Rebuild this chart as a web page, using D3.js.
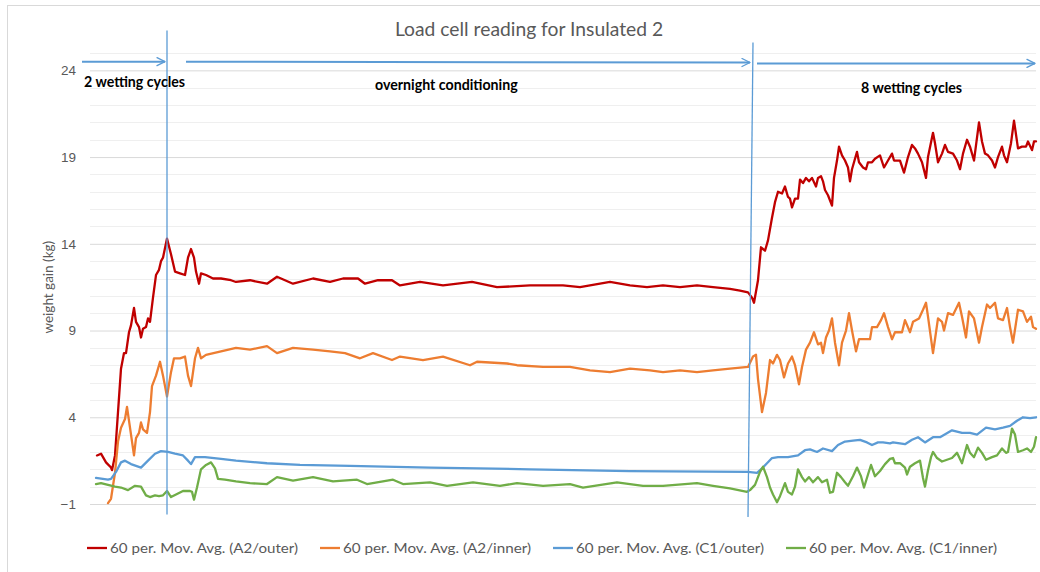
<!DOCTYPE html>
<html>
<head>
<meta charset="utf-8">
<script src="https://cdn.jsdelivr.net/npm/d3@7"></script>
<style>
  html, body { margin: 0; padding: 0; background: #ffffff; }
  svg { display: block; font-family: Lato, "Open Sans", "Liberation Sans", sans-serif; }
</style>
</head>
<body>
<svg id="chart" width="1040" height="572"></svg>
<script>
// ---------------- data ----------------
const chartTitle = "Load cell reading for Insulated 2";
const yAxisTitle = "weight gain (kg)";
const yTicks = [-1, 4, 9, 14, 19, 24];
const yMinorTicks = d3.range(-1, 26, 1);
const seriesNames = [
  "60 per. Mov. Avg. (A2/outer)",
  "60 per. Mov. Avg. (A2/inner)",
  "60 per. Mov. Avg. (C1/outer)",
  "60 per. Mov. Avg. (C1/inner)"
];
const seriesColors = ["#c00000", "#ed7d31", "#5b9bd5", "#70ad47"];

// [time step, weight gain kg]
const a2Outer = [[1,1.8],[5,1.9],[10,1.4],[15,1.1],[16,0.95],[19,1.8],[22,4.3],[25,6.8],[28,7.7],[30,7.7],[33,8.9],[35,9.3],[38,10.3],[40,9.5],[43,9.2],[45,8.6],[47,9.1],[50,9.2],[52,9.7],[54,9.5],[57,10.9],[60,12.2],[63,12.5],[65,13.0],[67,13.2],[71,14.3],[75,13.4],[79,12.4],[84,12.3],[89,12.2],[92,13.2],[95,13.7],[98,13.2],[100,12.4],[103,11.7],[105,12.3],[110,12.2],[117,12.0],[125,12.0],[135,11.9],[140,11.8],[154,11.9],[171,11.7],[181,12.1],[197,11.7],[217,12.0],[234,11.8],[247,12.0],[262,12.0],[269,11.7],[282,11.9],[296,11.9],[304,11.6],[324,11.8],[347,11.6],[376,11.8],[401,11.5],[434,11.6],[467,11.6],[484,11.5],[514,11.8],[534,11.6],[551,11.5],[567,11.6],[584,11.5],[601,11.6],[617,11.5],[634,11.4],[644,11.3],[652,11.2],[656,10.9],[658,10.6],[662,11.9],[665,13.8],[669,13.6],[672,14.2],[676,15.5],[679,16.4],[682,17.0],[686,16.9],[689,17.3],[692,16.7],[694,16.6],[696,16.1],[699,16.6],[702,16.6],[704,17.7],[707,17.5],[710,17.8],[713,17.6],[716,17.8],[720,17.3],[722,17.8],[725,17.9],[727,17.6],[729,17.1],[732,16.8],[736,16.2],[738,17.8],[741,18.8],[743,19.6],[746,19.1],[749,18.8],[752,18.4],[754,17.6],[756,18.3],[758,18.7],[761,19.3],[763,18.7],[767,18.4],[770,18.3],[772,18.7],[776,18.7],[779,18.9],[784,19.1],[788,18.4],[792,18.8],[796,19.2],[798,18.8],[804,18.8],[808,18.1],[812,19.0],[816,19.7],[819,19.5],[822,19.2],[826,18.7],[830,17.8],[832,19.0],[837,20.4],[839,19.8],[842,18.7],[846,19.2],[849,19.7],[852,19.3],[857,19.2],[861,18.8],[864,18.3],[867,19.2],[871,20.0],[874,19.6],[878,18.8],[883,21.0],[886,19.9],[889,19.2],[892,19.1],[896,18.8],[899,18.4],[902,19.0],[906,19.6],[908,19.1],[911,18.7],[915,19.8],[918,21.1],[922,19.5],[926,19.6],[930,19.6],[932,19.9],[936,19.4],[938,19.9],[940,19.9]];

const a2Inner = [[12,-0.95],[15,-0.7],[19,0.8],[22,2.6],[25,3.4],[29,3.9],[31,4.6],[34,3.4],[38,1.8],[40,2.8],[43,3.1],[45,3.7],[47,3.3],[51,3.1],[54,4.3],[56,5.8],[60,6.4],[64,7.2],[67,6.4],[71,5.2],[75,6.6],[78,7.4],[84,7.4],[89,7.5],[92,6.4],[95,5.8],[99,7.4],[102,8.0],[105,7.4],[110,7.6],[125,7.8],[140,8.0],[154,7.9],[171,8.1],[181,7.7],[197,8.0],[217,7.9],[234,7.8],[249,7.7],[264,7.4],[277,7.7],[296,7.3],[304,7.5],[327,7.3],[347,7.5],[374,7.0],[381,7.2],[411,7.1],[421,7.0],[447,6.9],[474,6.9],[494,6.7],[514,6.6],[534,6.8],[554,6.7],[567,6.6],[584,6.7],[601,6.6],[617,6.7],[634,6.8],[652,6.9],[657,7.5],[660,7.6],[662,6.2],[666,4.3],[670,5.4],[674,7.3],[677,7.1],[681,7.6],[684,7.3],[688,6.3],[692,7.1],[696,7.5],[699,7.0],[703,5.9],[706,6.9],[710,7.9],[714,8.3],[718,8.9],[722,8.2],[725,8.3],[727,7.7],[730,8.6],[733,9.0],[736,9.7],[739,8.3],[743,7.0],[746,8.3],[750,9.0],[753,10.0],[756,9.0],[760,7.8],[763,8.5],[770,8.5],[774,8.5],[776,9.2],[781,9.2],[785,9.6],[788,10.0],[792,9.2],[796,8.5],[799,8.9],[806,8.9],[809,9.6],[814,8.9],[817,9.5],[823,9.7],[827,10.2],[830,10.6],[832,9.8],[837,7.7],[839,8.5],[842,9.7],[846,9.5],[848,9.0],[852,10.0],[857,9.9],[863,10.6],[866,9.8],[870,8.6],[873,10.1],[878,9.7],[883,8.3],[886,9.2],[891,10.5],[894,10.3],[899,10.6],[902,9.7],[907,9.6],[911,10.3],[914,9.2],[917,8.3],[922,10.2],[927,10.1],[931,9.5],[935,9.8],[937,9.2],[940,9.1]];

const c1Outer = [[0,0.5],[12,0.4],[15,0.45],[20,0.85],[25,1.4],[29,1.5],[35,1.3],[45,1.1],[52,1.5],[59,1.9],[65,2.05],[72,2.0],[79,1.9],[87,1.8],[92,1.5],[95,1.3],[99,1.7],[109,1.7],[125,1.6],[140,1.5],[171,1.35],[204,1.25],[254,1.2],[334,1.1],[434,1.0],[534,0.9],[652,0.85],[661,0.8],[666,1.05],[671,1.35],[676,1.65],[682,1.7],[692,1.7],[702,1.8],[709,2.1],[714,2.15],[721,2.0],[727,2.2],[736,2.05],[742,2.4],[749,2.6],[757,2.65],[764,2.7],[771,2.55],[776,2.4],[782,2.55],[787,2.55],[794,2.5],[797,2.55],[809,2.45],[816,2.7],[822,2.85],[829,2.55],[837,2.85],[844,2.85],[856,3.25],[866,3.1],[874,3.1],[881,3.0],[890,3.4],[899,3.3],[907,3.4],[914,3.5],[921,3.8],[927,4.0],[934,3.95],[940,4.0]];

const c1Inner = [[0,0.15],[5,0.2],[12,0.1],[19,0.0],[25,-0.05],[32,-0.2],[39,0.05],[45,0.0],[50,-0.5],[54,-0.6],[59,-0.5],[63,-0.55],[67,-0.5],[71,-0.25],[75,-0.6],[80,-0.45],[87,-0.25],[94,-0.25],[96,-0.3],[98,-0.75],[101,-0.05],[105,1.0],[110,1.25],[115,1.4],[119,1.05],[122,0.45],[129,0.4],[140,0.3],[154,0.2],[171,0.15],[181,0.55],[197,0.35],[217,0.55],[237,0.3],[247,0.35],[261,0.4],[271,0.15],[297,0.4],[307,0.15],[334,0.25],[351,0.05],[377,0.25],[404,0.05],[421,0.2],[447,0.05],[474,0.15],[487,-0.05],[521,0.25],[547,0.05],[567,0.05],[601,0.2],[617,0.05],[634,-0.1],[651,-0.3],[654,-0.2],[659,0.1],[664,0.85],[667,1.15],[671,0.55],[674,-0.05],[677,-0.45],[681,-0.9],[684,-0.55],[689,0.2],[692,-0.3],[696,-0.45],[699,0.0],[702,1.0],[706,0.55],[709,0.3],[713,0.55],[717,0.25],[722,0.55],[726,0.25],[731,0.4],[734,-0.35],[737,-0.3],[741,0.8],[745,0.55],[749,0.25],[752,0.05],[757,0.6],[761,1.1],[765,0.6],[768,-0.05],[772,0.7],[775,1.25],[779,0.6],[784,0.9],[789,1.3],[794,1.6],[797,1.65],[799,1.35],[804,1.35],[809,1.1],[811,0.7],[814,1.15],[819,1.35],[824,1.5],[827,0.5],[829,0.0],[832,0.95],[835,1.7],[837,2.0],[841,1.65],[846,1.45],[851,1.55],[856,1.65],[861,1.95],[866,1.35],[871,2.4],[874,1.95],[878,1.7],[882,2.25],[886,1.95],[890,1.55],[896,1.7],[901,1.8],[906,2.2],[910,1.95],[912,2.0],[916,3.35],[919,3.0],[922,2.0],[927,2.1],[931,2.2],[935,2.0],[938,2.3],[940,2.85]];

// annotation phases (time step / kg units)
const phaseBoundaries = [ {t0: 71, v0: 26.3, t1: 71, v1: -1.6}, {t0: 657, v0: 25.6, t1: 652, v1: -1.75} ];
const phaseArrows = [ {t0: -14, t1: 69, v0: 24.5, v1: 24.5}, {t0: 90, t1: 654, v0: 24.5, v1: 24.45}, {t0: 661, t1: 939, v0: 24.4, v1: 24.4} ];
const phaseLabels = [ {text: "2 wetting cycles", t: -12, v: 23.05}, {text: "overnight conditioning", t: 279, v: 22.85}, {text: "8 wetting cycles", t: 765, v: 22.7} ];

// ---------------- drawing ----------------
const svg = d3.select("#chart");
const plot = {left: 90, right: 1036, top: 53, bottom: 504};

const x = d3.scaleLinear().domain([-6, 940]).range([plot.left, plot.right]);
const y = d3.scaleLinear().domain([-1, 25]).range([plot.bottom, plot.top]);

// outer chart border
svg.append("rect").attr("x", 7.5).attr("y", 5.5).attr("width", 1100).attr("height", 700)
  .attr("fill", "#fff").attr("stroke", "#d9d9d9").attr("stroke-width", 1);

// minor gridlines
svg.append("g").selectAll("line").data(yMinorTicks.filter(v => !yTicks.includes(v))).join("line")
  .attr("x1", plot.left).attr("x2", plot.right)
  .attr("y1", d => Math.round(y(d)) + 0.5).attr("y2", d => Math.round(y(d)) + 0.5)
  .attr("stroke", "#efefef").attr("stroke-width", 1);

// major gridlines via axis
const yAxis = d3.axisLeft(y).tickValues(yTicks).tickSize(-(plot.right - plot.left)).tickPadding(14).tickFormat(d3.format("d"));
const gy = svg.append("g").attr("transform", `translate(${plot.left},0)`).call(yAxis);
gy.select(".domain").remove();
gy.selectAll(".tick line").attr("stroke", "#d9d9d9").attr("stroke-width", 1);
gy.selectAll(".tick text").attr("fill", "#595959").attr("font-size", 13.5);

// title
svg.append("text").attr("x", 529).attr("y", 36).attr("text-anchor", "middle")
  .attr("fill", "#595959").attr("font-size", 19.3).text(chartTitle);

// y axis title
svg.append("text").attr("transform", `translate(53,${(y(15) + y(8)) / 2}) rotate(-90)`)
  .attr("text-anchor", "middle").attr("fill", "#595959").attr("font-size", 13.5).text(yAxisTitle);

// series lines
const line = d3.line().x(d => x(d[0])).y(d => y(d[1])).curve(d3.curveLinear);
const allSeries = [a2Outer, a2Inner, c1Outer, c1Inner];
svg.append("g").selectAll("path").data(allSeries).join("path")
  .attr("d", line).attr("fill", "none")
  .attr("stroke", (d, i) => seriesColors[i]).attr("stroke-width", 2.3)
  .attr("stroke-linejoin", "round").attr("stroke-linecap", "round");

// annotations
const annColor = "#5b9bd5";
const defs = svg.append("defs");
defs.append("marker").attr("id", "arrowOpen").attr("viewBox", "0 0 10 10")
  .attr("refX", 9).attr("refY", 5).attr("markerWidth", 5).attr("markerHeight", 5)
  .attr("orient", "auto").attr("markerUnits", "strokeWidth")
  .append("path").attr("d", "M1,1 L9,5 L1,9").attr("fill", "none")
  .attr("stroke", annColor).attr("stroke-width", 1.3).attr("stroke-linecap", "round").attr("stroke-linejoin", "round");

svg.append("g").selectAll("line").data(phaseBoundaries).join("line")
  .attr("x1", d => x(d.t0)).attr("y1", d => y(d.v0)).attr("x2", d => x(d.t1)).attr("y2", d => y(d.v1))
  .attr("stroke", annColor).attr("stroke-width", 1.3);

svg.append("g").selectAll("line").data(phaseArrows).join("line")
  .attr("x1", d => x(d.t0)).attr("y1", d => y(d.v0)).attr("x2", d => x(d.t1)).attr("y2", d => y(d.v1))
  .attr("stroke", annColor).attr("stroke-width", 2).attr("marker-end", "url(#arrowOpen)");

svg.append("g").selectAll("text").data(phaseLabels).join("text")
  .attr("x", d => x(d.t)).attr("y", d => y(d.v))
  .attr("font-size", 14.2).attr("font-weight", "bold").attr("fill", "#000")
  .text(d => d.text);

// legend
const legend = svg.append("g").attr("transform", "translate(87,548)");
const item = legend.selectAll("g").data(seriesNames).join("g")
  .attr("transform", (d, i) => `translate(${i * 233},0)`);
item.append("line").attr("x1", 0).attr("x2", 20).attr("y1", 0).attr("y2", 0)
  .attr("stroke", (d, i) => seriesColors[i]).attr("stroke-width", 2.3);
item.append("text").attr("x", 23).attr("y", 0).attr("dy", "0.35em")
  .attr("fill", "#595959").attr("font-size", 14)
  .attr("textLength", 188).attr("lengthAdjust", "spacingAndGlyphs").text(d => d);
</script>
</body>
</html>
